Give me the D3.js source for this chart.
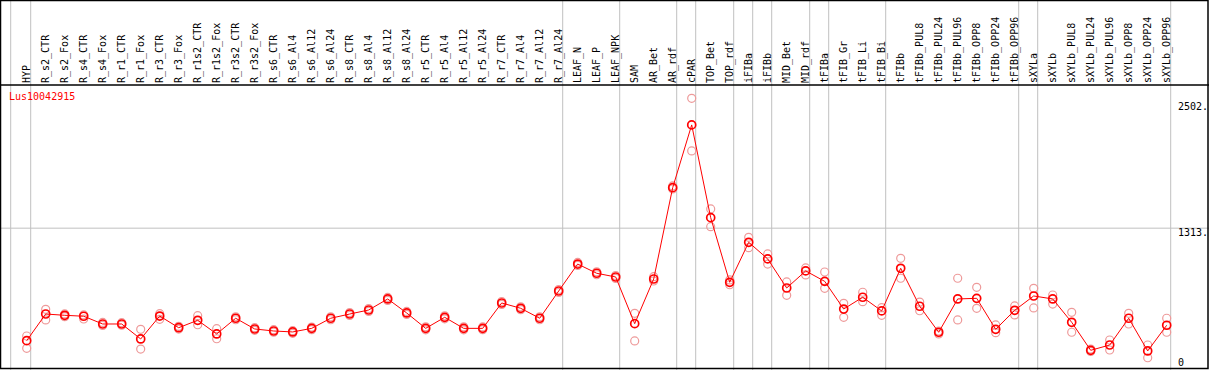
<!DOCTYPE html>
<html>
<head>
<meta charset="utf-8">
<script src="https://cdn.jsdelivr.net/npm/d3@7"></script>
<style>
  body { margin: 0; background: #fff; }
  svg { display: block; }
  text { font-family: "DejaVu Sans Mono", monospace; font-size: 10px; }
</style>
</head>
<body>
<svg id="chart" width="1209" height="370"></svg>
<script>
const geneName = 'Lus10042915'

const samples = ['HYP','R_s2_CTR','R_s2_Fox','R_s4_CTR','R_s4_Fox','R_r1_CTR','R_r1_Fox','R_r3_CTR','R_r3_Fox',
  'R_r1s2_CTR','R_r1s2_Fox','R_r3s2_CTR','R_r3s2_Fox','R_s6_CTR','R_s6_Al4','R_s6_Al12','R_s6_Al24',
  'R_s8_CTR','R_s8_Al4','R_s8_Al12','R_s8_Al24','R_r5_CTR','R_r5_Al4','R_r5_Al12','R_r5_Al24',
  'R_r7_CTR','R_r7_Al4','R_r7_Al12','R_r7_Al24','LEAF_N','LEAF_P','LEAF_NPK','SAM','AR_Bet','AR_rdf',
  'cPAR','TOP_Bet','TOP_rdf','iFIBa','iFIBb','MID_Bet','MID_rdf','tFIBa','tFIB_Gr','tFIB_Li','tFIB_Bi',
  'tFIBb','tFIBb_PUL8','tFIBb_PUL24','tFIBb_PUL96','tFIBb_OPP8','tFIBb_OPP24','tFIBb_OPP96',
  'sXYLa','sXYLb','sXYLb_PUL8','sXYLb_PUL24','sXYLb_PUL96','sXYLb_OPP8','sXYLb_OPP24','sXYLb_OPP96']

// mean expression per sample
const meanValues = [253,504,492,483,410,410,269,485,375,445,316,464,363,344,335,369,464,
  504,542,646,514,369,473,369,369,608,558,464,721,975,888,853,413,834,1695,
  2286,1412,803,1180,1023,749,910,812,551,662,533,
  935,577,332,646,652,360,539,674,646,426,162,212,464,156,398]

// replicates (faint circles)
const rep1 = [297,548,505,495,425,422,360,507,388,488,366,478,375,356,347,381,478,
  518,556,660,528,383,487,383,382,622,572,478,735,990,902,867,511,856,1711,
  2537,1494,825,1227,1070,806,938,900,605,709,564,
  1029,617,344,841,756,401,580,746,683,520,174,259,511,212,464]
const rep2 = [181,448,479,457,396,398,174,454,362,403,271,450,350,332,322,356,450,
  490,528,632,500,355,459,355,356,594,544,450,707,961,874,839,250,815,1682,
  2041,1327,780,1129,975,680,872,746,473,620,492,
  841,535,316,448,558,328,495,561,598,332,151,165,410,92,332]

// sample after which a group separator is drawn
const groupEnds = ['HYP','R_r7_Al24','LEAF_NPK','AR_rdf','cPAR','TOP_rdf','iFIBa','iFIBb','MID_rdf',
  'tFIBa','tFIB_Bi','tFIBb_OPP96','sXYLa','sXYLb_OPP96']

const yTicks = [
  {v: 2502, label: '2502.'},
  {v: 1313, label: '1313.'},
  {v: 0, label: '0'}
]

const W = 1209, H = 370
const headerH = 85
const svg = d3.select('#chart')

const x = d3.scalePoint().domain(samples).range([26.7, 1166.7])
const step = x.step()
const y = d3.scaleLinear().domain([0, 2502]).range([367.5, 102])

// vertical separators
const sepX = [x(samples[0]) - step + 3].concat(groupEnds.map(s => x(s) + 4))
svg.append('g')
  .selectAll('line')
  .data(sepX)
  .enter()
  .append('line')
  .attr('x1', d => d).attr('x2', d => d)
  .attr('y1', 0).attr('y2', H)
  .attr('stroke', '#c0c0c0')
  .attr('stroke-width', 1)

// horizontal mid gridline
svg.append('line')
  .attr('x1', 0).attr('x2', W)
  .attr('y1', y(1313)).attr('y2', y(1313))
  .attr('stroke', '#c0c0c0')
  .attr('stroke-width', 1)

// frame
svg.append('rect')
  .attr('x', 0.5).attr('y', 0.5)
  .attr('width', 1207.5).attr('height', 368)
  .attr('fill', 'none')
  .attr('stroke', '#000')
  .attr('stroke-width', 1.5)
svg.append('line')
  .attr('x1', 0).attr('x2', W)
  .attr('y1', headerH).attr('y2', headerH)
  .attr('stroke', '#000')
  .attr('stroke-width', 1.5)

// sample labels
svg.append('g')
  .selectAll('text')
  .data(samples)
  .enter()
  .append('text')
  .attr('transform', d => 'translate(' + (x(d) + 3.3) + ',83) rotate(-90)')
  .attr('fill', '#000')
  .text(d => d)

// y labels
svg.append('g')
  .selectAll('text')
  .data(yTicks)
  .enter()
  .append('text')
  .attr('x', 1178)
  .attr('y', d => Math.min(y(d.v) + 7.5, 365.5))
  .attr('fill', '#000')
  .text(d => d.label)

svg.append('text')
  .attr('x', 9).attr('y', 100)
  .attr('fill', '#ff0000')
  .text(geneName)

// replicates
const reps = []
samples.forEach((s, i) => {
  reps.push({s: s, v: rep1[i]})
  reps.push({s: s, v: rep2[i]})
})
svg.append('g')
  .selectAll('circle')
  .data(reps)
  .enter()
  .append('circle')
  .attr('cx', d => x(d.s))
  .attr('cy', d => y(d.v))
  .attr('r', 4)
  .attr('fill', 'none')
  .attr('stroke', '#ee9a9a')
  .attr('stroke-width', 1.2)

// mean line
const means = samples.map((s, i) => ({s: s, v: meanValues[i]}))
svg.append('path')
  .datum(means)
  .attr('fill', 'none')
  .attr('stroke', '#ff0000')
  .attr('stroke-width', 1)
  .attr('d', d3.line().x(d => x(d.s)).y(d => y(d.v)))

svg.append('g')
  .selectAll('circle')
  .data(means)
  .enter()
  .append('circle')
  .attr('cx', d => x(d.s))
  .attr('cy', d => y(d.v))
  .attr('r', 4)
  .attr('fill', 'none')
  .attr('stroke', '#ff0000')
  .attr('stroke-width', 1.7)
</script>
</body>
</html>
